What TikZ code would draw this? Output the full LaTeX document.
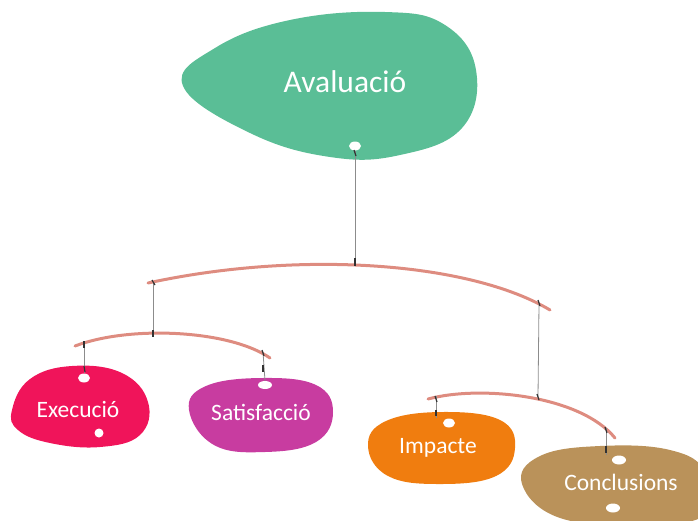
\documentclass[tikz,border=0pt]{standalone}
\usepackage{fontspec}
\setmainfont{Carlito}
\usetikzlibrary{shapes.geometric}
\begin{document}
\begin{tikzpicture}[x=1pt,y=-1pt,
  lbl/.style={text=white,font=\fontsize{23.5}{26}\selectfont,inner sep=0pt},
  hole/.style={ellipse,fill=white,minimum width=12pt,minimum height=9pt,inner sep=0pt},
  string/.style={draw={rgb,255:red,140;green,140;blue,140},line width=0.8pt},
  beam/.style={draw={rgb,255:red,222;green,140;blue,128},line width=3pt,line cap=round},
  hookmark/.style={draw={rgb,255:red,50;green,50;blue,50},line width=1.2pt}
]
\useasboundingbox (0,0) rectangle (698,520);
\definecolor{cgreen}{RGB}{90,190,150}
\definecolor{cpink}{RGB}{240,20,90}
\definecolor{cmag}{RGB}{200,60,160}
\definecolor{corange}{RGB}{240,125,15}
\definecolor{ctan}{RGB}{186,146,90}

% blobs
\fill[cgreen] plot[smooth cycle,tension=0.7] coordinates {(183,86) (215,48) (290,20) (385,12) (445,25) (476,70) (462,128) (400,155) (330,157) (250,133)};
\fill[cpink] plot[smooth cycle,tension=0.7] coordinates {(12,410) (30,379) (72,366) (122,373) (148,402) (140,435) (100,447) (50,443) (18,430)};
\fill[cmag] plot[smooth cycle,tension=0.7] coordinates {(189,410) (206,386) (262,378) (316,385) (333,412) (316,442) (265,452) (214,445)};
\fill[corange] plot[smooth cycle,tension=0.7] coordinates {(368,446) (386,421) (442,412) (500,420) (515,448) (496,476) (440,484) (388,476)};
\begin{scope}
\clip (0,0) rectangle (698,520);
\fill[ctan] plot[smooth cycle,tension=0.7] coordinates {(522,484) (540,456) (600,446) (670,450) (705,472) (705,515) (640,524) (560,518)};
\end{scope}

% text
\node[lbl,font=\fontsize{31.5}{34}\selectfont] (aval) at (345,82) {Avaluació};
\node[lbl] (exec) at (78,409) {Execució};
\node[lbl] (sat) at (261,412) {Satisfacció};
\node[lbl] (imp) at (438,448) {Impacte};
\node[lbl] (conc) at (621,482) {Conclusions};

% beams
\draw[beam] (148,283) .. controls (300,250) and (470,262) .. (550,310);
\draw[beam] (75,346) .. controls (130,325) and (230,330) .. (270,358);
\draw[beam] (428,399) .. controls (480,385) and (580,395) .. (615,438);

% attachment points
\coordinate (b1) at (355,264);
\coordinate (b1l) at (153,282);
\coordinate (b1r) at (539,304);
\coordinate (b2) at (153,334);
\coordinate (b2l) at (84,343);
\coordinate (b2r) at (263,352);
\coordinate (b3) at (538,397);
\coordinate (b3l) at (436,396);
\coordinate (b3r) at (606,428);
\coordinate (eimp) at (436,418);
\coordinate (econc) at (606,455);

% holes
\node[hole] (h0) at (355,146) {};
\node[hole] (hex) at (84,378) {};
\node[hole,minimum width=9pt] (hex2) at (99,433) {};
\node[hole,minimum width=14pt,minimum height=8pt] (hsat) at (265,385) {};
\node[hole] (himp) at (449,423) {};
\node[hole,minimum width=14pt] (hconc) at (619,460) {};
\node[hole,minimum width=14pt] (hconc2) at (613,508) {};

% strings
\draw[string] (h0.south) -- (b1);
\draw[string] (b1l) -- (b2);
\draw[string] (b1r) -- (b3);
\draw[string] (b2l) -- (hex.north);
\draw[string] (b2r) -- (hsat.north);
\draw[string] (b3l) -- (eimp);
\draw[string] (b3r) -- (econc);

% hooks
\draw[hookmark] (354,150) -- (356,156);
\draw[hookmark] (355,258) -- (355,266);
\draw[hookmark] (152,280) -- (155,285);
\draw[hookmark] (153,330) -- (153,337);
\draw[hookmark] (538,300) -- (540,306);
\draw[hookmark] (84,341) -- (84,348);
\draw[hookmark] (84,366) -- (85,372);
\draw[hookmark] (262,350) -- (264,356);
\draw[hookmark] (263,365) -- (263,372);
\draw[hookmark] (537,394) -- (539,400);
\draw[hookmark] (435,396) -- (437,402);
\draw[hookmark] (436,410) -- (436,416);
\draw[hookmark] (605,427) -- (607,433);
\draw[hookmark] (606,446) -- (606,453);
\end{tikzpicture}
\end{document}
